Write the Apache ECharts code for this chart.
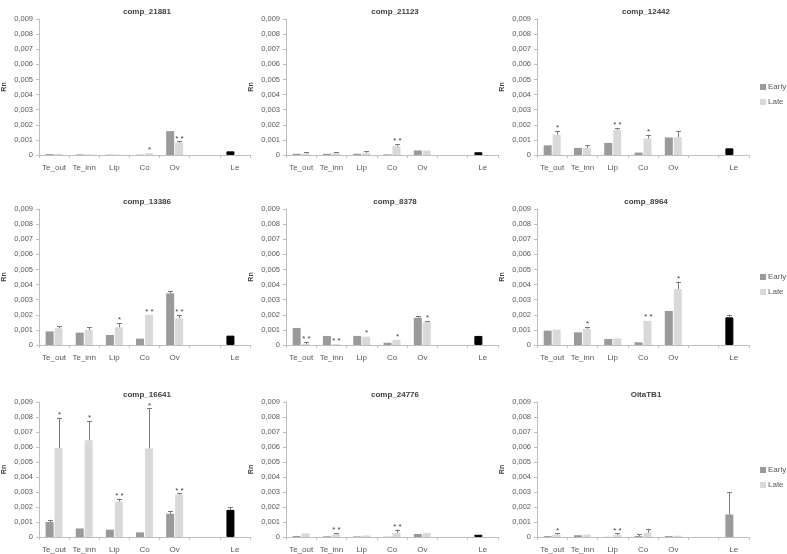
<!DOCTYPE html>
<html>
<head>
<meta charset="utf-8">
<script src="https://cdn.jsdelivr.net/npm/echarts@6/dist/echarts.min.js"></script>
<style>
html,body{margin:0;padding:0;background:#fff;}
#chart{width:787px;height:554px;}
</style>
</head>
<body>
<div id="chart"></div>
<script>
const categories = ['Te_out', 'Te_inn', 'Lip', 'Co', 'Ov', '', 'Le'];
const titles = ['comp_21881', 'comp_21123', 'comp_12442', 'comp_13386', 'comp_8378', 'comp_8964', 'comp_16641', 'comp_24776', 'OitaTB1'];
const yTicks = [0, 0.001, 0.002, 0.003, 0.004, 0.005, 0.006, 0.007, 0.008, 0.009];

const earlyMean = [
  [0.00006, 0.00004, 0.00002, 0.00002, 0.00158],
  [0.00008, 0.00008, 0.00008, 0.00004, 0.0003],
  [0.00064, 0.00047, 0.0008, 0.00016, 0.00116],
  [0.0009, 0.00082, 0.00066, 0.00042, 0.00342],
  [0.00113, 0.0006, 0.0006, 0.00015, 0.0018],
  [0.00095, 0.00084, 0.0004, 0.00018, 0.00225],
  [0.001, 0.00057, 0.00049, 0.00031, 0.00155],
  [0.00007, 0.00005, 0.00004, 0.00002, 0.0002],
  [0.00006, 0.00012, 0.00001, 0.00006, 0.00006]
];
const earlyErr = [
  [0.00002, 0.00001, 0, 0, 0.00003],
  [0.00001, 0.00001, 0.00001, 0, 0.00002],
  [0.00002, 0.00001, 0.00002, 0.00001, 0.00004],
  [0.00002, 0.00002, 0.00002, 0.00002, 0.00015],
  [0.00003, 0.00002, 0.00001, 0.00002, 0.0001],
  [0.00002, 0.00002, 0.00001, 0.00001, 0.00004],
  [0.00015, 0.00003, 0.00003, 0.00002, 0.00019],
  [0.00001, 0.00001, 0, 0, 0.00003],
  [0.00001, 0.00002, 0, 0.00011, 0.00001]
];
const lateMean = [
  [0.00008, 0.00004, 0.00002, 0.00012, 0.00082],
  [0.0001, 0.00013, 0.00015, 0.0006, 0.0003],
  [0.00135, 0.00047, 0.00167, 0.0011, 0.00118],
  [0.0011, 0.001, 0.00117, 0.002, 0.00177],
  [0.00007, 0.00006, 0.00055, 0.00033, 0.0015],
  [0.00102, 0.00108, 0.00044, 0.0016, 0.0037],
  [0.00594, 0.00645, 0.00236, 0.0059, 0.00283],
  [0.00024, 0.00018, 0.0001, 0.00028, 0.00027],
  [0.00016, 0.00016, 0.00013, 0.00029, 0.00009]
];
const lateErr = [
  [0.00002, 0.00001, 0, 0.00004, 0.00008],
  [0.0001, 0.00007, 0.00009, 0.00013, 0.00002],
  [0.00025, 0.00017, 0.00013, 0.00025, 0.00042],
  [0.00014, 0.00017, 0.00029, 0.00003, 0.00023],
  [0.00011, 0.00001, 0.00005, 0.00001, 0.00007],
  [0.00002, 0.00012, 0.00001, 0.00006, 0.0005],
  [0.00201, 0.00128, 0.0002, 0.00267, 0.00008],
  [0.00002, 0.00008, 0.00002, 0.00022, 0.00002],
  [0.00008, 0.00002, 0.00011, 0.00026, 0.00002]
];
const lateStars = [
  ['', '', '', '*', '**'],
  ['', '', '', '**', ''],
  ['*', '', '**', '*', ''],
  ['', '', '*', '**', '**'],
  ['**', '**', '*', '*', '*'],
  ['', '*', '', '**', '*'],
  ['*', '*', '**', '*', '**'],
  ['', '**', '', '**', ''],
  ['*', '', '**', '', '']
];
const leMean = [0.00024, 0.00018, 0.00044, 0.00062, 0.0006, 0.00183, 0.00181, 0.00015, 0.0015];
const leErr = [0.00001, 0.00003, 0.00006, 0.00002, 0.00002, 0.00017, 0.00019, 0.00001, 0.0015];
const leBlack = [true, true, true, true, true, true, true, true, false];

const FONT = 'Liberation Sans';
const EARLY = '#9a9a9a', LATE = '#d9d9d9', ERRC = '#7a7a7a';
const colLeft = [38, 286, 537];
const rowTop = [19, 209, 402];
const gridW = 212, gridH = 136;
const BW = 8, HALF = 4.5;

const option = {
  animation: false,
  backgroundColor: '#fff',
  textStyle: { fontFamily: FONT },
  title: [], grid: [], xAxis: [], yAxis: [], series: [], legend: []
};

function fmtY(v) { return v === 0 ? '0' : v.toFixed(3).replace('.', ','); }

for (let p = 0; p < 9; p++) {
  const r = Math.floor(p / 3), c = p % 3;
  option.grid.push({ left: colLeft[c], top: rowTop[r], width: gridW, height: gridH });
  option.title.push({
    text: titles[p], left: colLeft[c] + gridW / 2 - 2, top: rowTop[r] - 16, textAlign: 'center',
    textStyle: { fontSize: 8, fontWeight: 'bold', color: '#404040', fontFamily: FONT }
  });
  option.xAxis.push({
    type: 'category', gridIndex: p, data: categories,
    axisLine: { lineStyle: { color: '#bfbfbf', width: 1 } },
    axisTick: { show: true, length: 3, lineStyle: { color: '#bfbfbf' } },
    axisLabel: { interval: 0, fontSize: 8, color: '#595959', margin: 9, fontFamily: FONT },
    splitLine: { show: false }
  });
  option.yAxis.push({
    type: 'value', gridIndex: p, min: 0, max: 0.009, interval: 0.001,
    name: 'Rn', nameLocation: 'middle', nameGap: 31, nameRotate: 90,
    nameTextStyle: { fontSize: 7, fontWeight: 'bold', color: '#404040', fontFamily: FONT },
    axisLine: { show: true, lineStyle: { color: '#bfbfbf' } },
    axisTick: { show: true, length: 3, lineStyle: { color: '#bfbfbf' } },
    axisLabel: { fontSize: 7.5, color: '#595959', margin: 6, formatter: fmtY, fontFamily: FONT },
    splitLine: { show: false }
  });
  const eData = earlyMean[p].slice();
  eData.push('-');
  eData.push({ value: leMean[p], itemStyle: leBlack[p] ? { color: '#000', borderColor: '#000', borderWidth: 1 } : { color: EARLY } });
  const lData = lateMean[p].slice();
  lData.push('-', '-');
  option.series.push({
    name: 'Early', type: 'bar', xAxisIndex: p, yAxisIndex: p, data: eData,
    barWidth: BW, barGap: '12%', itemStyle: { color: EARLY }, z: 2
  });
  option.series.push({
    name: 'Late', type: 'bar', xAxisIndex: p, yAxisIndex: p, data: lData,
    barWidth: BW, barGap: '12%', itemStyle: { color: LATE }, z: 2
  });
  // error bars (top only) + significance marks
  const errData = [];
  const stars = [];
  for (let i = 0; i < 5; i++) {
    errData.push([i, earlyMean[p][i], earlyMean[p][i] + earlyErr[p][i], -1]); stars.push('');
    errData.push([i, lateMean[p][i], lateMean[p][i] + lateErr[p][i], 1]); stars.push(lateStars[p][i]);
  }
  errData.push([6, leMean[p], leMean[p] + leErr[p], -1]); stars.push('');
  option.series.push({
    type: 'custom', xAxisIndex: p, yAxisIndex: p, data: errData, z: 5, silent: true,
    renderItem: (function (st) {
      return function (params, api) {
        const cat = api.value(0), top = api.value(1), et = api.value(2), side = api.value(3);
        const p0 = api.coord([cat, top]);
        const p1 = api.coord([cat, et]);
        const x = Math.round(p0[0] + side * HALF) + 0.5;
        const children = [];
        if (p0[1] - p1[1] >= 1) {
          children.push({ type: 'line', shape: { x1: x, y1: p0[1], x2: x, y2: p1[1] }, style: { stroke: ERRC, lineWidth: 1 } });
          children.push({ type: 'line', shape: { x1: x - 2.5, y1: Math.round(p1[1]) + 0.5, x2: x + 2.5, y2: Math.round(p1[1]) + 0.5 }, style: { stroke: ERRC, lineWidth: 1 } });
        }
        const s = st[params.dataIndex];
        if (s) {
          children.push({ type: 'text', x: x, y: p1[1] - 3, style: { text: s === '**' ? '* *' : '*', fill: '#404040', font: '8px ' + FONT, textAlign: 'center', textVerticalAlign: 'middle' } });
        }
        return { type: 'group', children: children };
      };
    })(stars)
  });
  if (c === 2) {
    option.legend.push({
      data: ['Early', 'Late'], orient: 'vertical', left: 760, top: rowTop[r] + 63, padding: 0,
      itemWidth: 6, itemHeight: 6, itemGap: 5, icon: 'rect', selectedMode: false,
      textStyle: { fontSize: 8, color: '#595959', fontFamily: FONT, padding: [0, 0, 0, -3], lineHeight: 10 }
    });
  }
}

const chart = echarts.init(document.getElementById('chart'), null, { renderer: 'canvas' });
chart.setOption(option);
</script>
</body>
</html>
